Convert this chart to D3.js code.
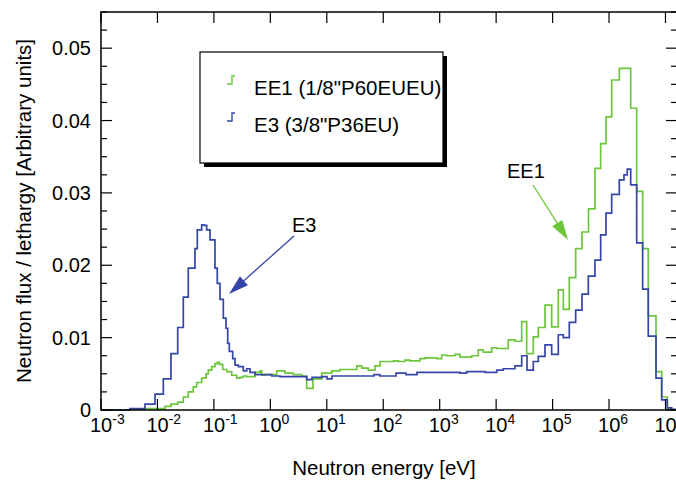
<!DOCTYPE html>
<html><head><meta charset="utf-8">
<script src="https://cdn.jsdelivr.net/npm/d3@7"></script>
<style>
body{margin:0;background:#fff}
svg{display:block}
text{font-family:"Liberation Sans",Arial,Helvetica,sans-serif;fill:#000}
</style>
</head><body>
<svg id="chart" width="676" height="484"></svg>
<script>
// ---------- data ----------
// bin edges given as log10(E / eV); flux per lethargy in each bin
const seriesNames = ["EE1 (1/8\"P60EUEU)", "E3 (3/8\"P36EU)"];
const seriesColors = ["#6cc63c", "#3546a8"];

const e3LogEdges = [-3,-2.486,-2.221,-2.043,-1.896,-1.760,-1.641,-1.542,-1.454,-1.335,-1.294,-1.216,-1.175,-1.128,-1.069,-0.981,-0.940,-0.892,-0.833,-0.786,-0.755,-0.727,-0.667,-0.626,-0.568,-0.479,-0.419,-0.360,-0.272,0.024,0.171,0.644,0.738,0.915,1.004,1.092,1.836,1.942,2.226,2.403,2.598,3.360,3.478,3.803,4.010,4.127,4.334,4.453,4.547,4.658,4.747,4.866,4.984,5.101,5.190,5.296,5.409,5.521,5.633,5.751,5.852,5.946,6.047,6.182,6.265,6.323,6.384,6.490,6.596,6.695,6.832,6.933,7.032,7.110,7.204];
const e3Flux = [0,0.0002,0.0008,0.0022,0.0043,0.0078,0.0114,0.0156,0.0196,0.0223,0.0249,0.0256,0.0255,0.0249,0.0235,0.0196,0.0175,0.0153,0.0127,0.0113,0.0092,0.0081,0.0071,0.0062,0.0060,0.0054,0.0057,0.0052,0.0049,0.0047,0.0046,0.0042,0.0045,0.0046,0.0043,0.0047,0.0049,0.0047,0.0051,0.0049,0.0052,0.0051,0.0053,0.0052,0.0055,0.0057,0.0061,0.0075,0.0055,0.0067,0.0074,0.0090,0.0077,0.0104,0.0100,0.0121,0.0138,0.0160,0.0185,0.0207,0.0242,0.0272,0.0298,0.0318,0.0325,0.0333,0.0311,0.0231,0.0167,0.0102,0.0044,0.0014,0.0003,0.0001];

const ee1LogEdges = [-3,-2.486,-2.221,-1.866,-1.760,-1.641,-1.542,-1.454,-1.365,-1.305,-1.216,-1.140,-1.099,-1.039,-0.981,-0.940,-0.904,-0.844,-0.773,-0.685,-0.596,-0.538,-0.479,-0.419,-0.272,-0.183,-0.153,-0.095,0.112,0.260,0.407,0.555,0.644,0.756,0.910,1.087,1.234,1.530,1.618,1.735,1.854,1.942,2.178,2.267,2.385,2.474,2.651,2.740,2.947,3.036,3.124,3.271,3.360,3.567,3.684,3.772,3.921,4.010,4.215,4.334,4.453,4.541,4.658,4.747,4.866,4.984,5.101,5.190,5.296,5.409,5.521,5.636,5.751,5.852,5.946,6.047,6.182,6.384,6.490,6.596,6.695,6.832,6.933,7.032,7.110,7.204];
const ee1Flux = [0,0.0001,0.0002,0.0005,0.0008,0.0011,0.0018,0.0025,0.0032,0.0038,0.0044,0.0050,0.0055,0.0060,0.0064,0.0066,0.0063,0.0056,0.0053,0.0048,0.0044,0.0045,0.0047,0.0046,0.0052,0.0054,0.0048,0.0049,0.0054,0.0051,0.0049,0.0047,0.0030,0.0043,0.0051,0.0054,0.0056,0.0061,0.0058,0.0055,0.0061,0.0067,0.0068,0.0067,0.0069,0.0068,0.0071,0.0072,0.0071,0.0076,0.0075,0.0077,0.0073,0.0075,0.0083,0.0080,0.0086,0.0085,0.0097,0.0095,0.0122,0.0078,0.0101,0.0114,0.0145,0.0115,0.0166,0.0139,0.0183,0.0223,0.0246,0.0278,0.0334,0.0368,0.0405,0.0456,0.0472,0.0417,0.0302,0.0223,0.0130,0.0053,0.0018,0.0002,0];

const yTickValues = [0, 0.01, 0.02, 0.03, 0.04, 0.05];
const yTickLabels = ["0", "0.01", "0.02", "0.03", "0.04", "0.05"];
const xDecades = [-3,-2,-1,0,1,2,3,4,5,6,7];
const xTitle = "Neutron energy [eV]";
const yTitle = "Neutron flux / lethargy [Arbitrary units]";

// ---------- layout ----------
const L = 101, R = 677, T = 12, B = 410;
const svg = d3.select("#chart");
const x = d3.scaleLog().domain([1e-3, 1.6e7]).range([L, R]);
const y = d3.scaleLinear().domain([0, 0.055]).range([B, T]);

// ---------- curves ----------
function stepPts(edges, vals) {
  const n = Math.min(edges.length - 1, vals.length);
  const pts = [];
  for (let i = 0; i < n; i++) pts.push([Math.pow(10, edges[i]), vals[i]]);
  pts.push([Math.pow(10, edges[n]), vals[n - 1]]);
  return pts;
}
const line = d3.line().x(d => x(d[0])).y(d => y(d[1])).curve(d3.curveStepAfter);
svg.append("clipPath").attr("id", "pc").append("rect")
  .attr("x", L).attr("y", T).attr("width", R - L).attr("height", B - T + 2);
const plot = svg.append("g").attr("clip-path", "url(#pc)");
plot.append("path").attr("d", line(stepPts(ee1LogEdges, ee1Flux)))
  .attr("fill", "none").attr("stroke", seriesColors[0]).attr("stroke-width", 1.7);
plot.append("path").attr("d", line(stepPts(e3LogEdges, e3Flux)))
  .attr("fill", "none").attr("stroke", seriesColors[1]).attr("stroke-width", 1.7);

// ---------- frame & ticks ----------
const ax = svg.append("g").attr("stroke", "#000");
ax.append("rect").attr("x", L).attr("y", T).attr("width", R - L).attr("height", B - T)
  .attr("fill", "none").attr("stroke-width", 1.5);
const majLen = 11, minLen = 6;
x.ticks().forEach(v => {
  const lg = Math.log10(v);
  const major = Math.abs(lg - Math.round(lg)) < 1e-9;
  const len = major ? majLen : minLen;
  const px = x(v);
  ax.append("line").attr("x1", px).attr("x2", px).attr("y1", B).attr("y2", B - len).attr("stroke-width", 1.2);
  ax.append("line").attr("x1", px).attr("x2", px).attr("y1", T).attr("y2", T + len).attr("stroke-width", 1.2);
});
d3.range(0, 0.0551, 0.0025).forEach(v => {
  const major = Math.abs(v / 0.01 - Math.round(v / 0.01)) < 1e-6;
  const len = major ? majLen : minLen;
  const py = y(v);
  ax.append("line").attr("x1", L).attr("x2", L + len).attr("y1", py).attr("y2", py).attr("stroke-width", 1.2);
  ax.append("line").attr("x1", R).attr("x2", R - len).attr("y1", py).attr("y2", py).attr("stroke-width", 1.2);
});

// tick labels
const fs = 20;
yTickValues.forEach((v, i) => {
  svg.append("text").attr("x", 91).attr("y", y(v)).attr("dy", "0.36em")
    .attr("text-anchor", "end").attr("font-size", fs).text(yTickLabels[i]);
});
xDecades.forEach(d => {
  const px = x(Math.pow(10, d));
  const t = svg.append("text").attr("x", px - 11).attr("y", 432).attr("font-size", fs);
  t.append("tspan").text("10");
  t.append("tspan").attr("font-size", 14).attr("dy", -8).text(String(d));
});

// axis titles
svg.append("text").attr("x", 384).attr("y", 475).attr("text-anchor", "middle")
  .attr("font-size", 20.5).text(xTitle);
svg.append("text").attr("transform", "translate(31,211) rotate(-90)").attr("text-anchor", "middle")
  .attr("font-size", 20.5).text(yTitle);

// ---------- legend ----------
const lg = svg.append("g");
lg.append("rect").attr("x", 204).attr("y", 56).attr("width", 243).attr("height", 111).attr("fill", "#000");
lg.append("rect").attr("x", 200).attr("y", 52).attr("width", 243).attr("height", 111)
  .attr("fill", "#fff").attr("stroke", "#000").attr("stroke-width", 1.2);
[[0, 95], [1, 132]].forEach(([i, by]) => {
  lg.append("path").attr("d", `M227,${by - 11}H232V${by - 19}H235`)
    .attr("fill", "none").attr("stroke", seriesColors[i]).attr("stroke-width", 1.4);
  lg.append("text").attr("x", 254).attr("y", by).attr("font-size", 20.5).text(seriesNames[i]);
});

// ---------- annotations ----------
function arrow(x1, y1, x2, y2, color) {
  const dx = x2 - x1, dy = y2 - y1, len = Math.hypot(dx, dy);
  const ux = dx / len, uy = dy / len, hl = 20, hw = 6;
  const bx = x2 - ux * hl, by = y2 - uy * hl;
  svg.append("line").attr("x1", x1).attr("y1", y1).attr("x2", bx + ux * 2).attr("y2", by + uy * 2)
    .attr("stroke", color).attr("stroke-width", 1.3);
  svg.append("polygon").attr("points",
    `${x2},${y2} ${bx - uy * hw},${by + ux * hw} ${bx + uy * hw},${by - ux * hw}`).attr("fill", color);
}
svg.append("text").attr("x", 292).attr("y", 232).attr("font-size", fs).text("E3");
arrow(294, 236, 229, 294, seriesColors[1]);
svg.append("text").attr("x", 507).attr("y", 178).attr("font-size", fs).text("EE1");
arrow(533, 185, 568, 240, seriesColors[0]);
</script>
</body></html>
